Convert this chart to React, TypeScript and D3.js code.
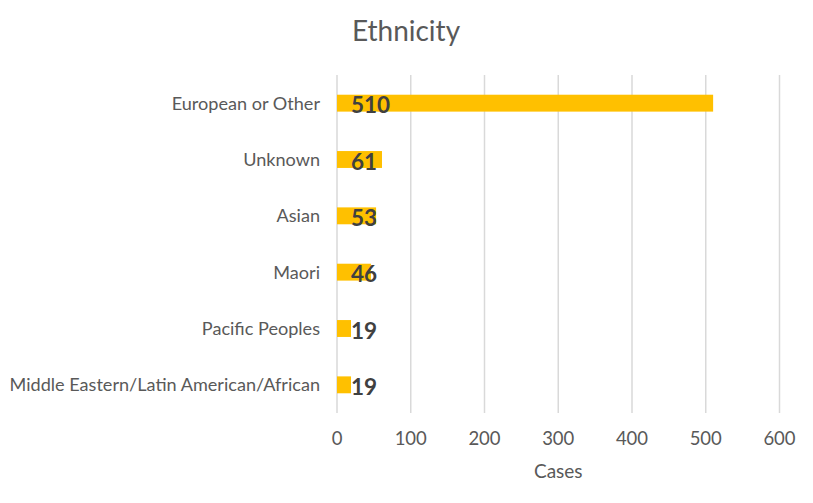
import React, { useEffect, useRef } from "react"
import * as d3 from "d3"

const categories = [
	"European or Other",
	"Unknown",
	"Asian",
	"Maori",
	"Pacific Peoples",
	"Middle Eastern/Latin American/African",
]
const cases = [510, 61, 53, 46, 19, 19]
const xTicks = [0, 100, 200, 300, 400, 500, 600]

const App = () => {
	const ref = useRef<SVGSVGElement>(null)

	useEffect(() => {
		const width = 813
		const height = 503
		const left = 337
		const right = 779.5
		const top = 75
		const bottom = 413
		const font = "Lato, 'Open Sans', sans-serif"

		const svg = d3.select(ref.current)
		svg.selectAll("*").remove()
		svg.attr("width", width).attr("height", height)

		const x = d3.scaleLinear().domain([0, 600]).range([left, right])
		const y = d3
			.scaleBand()
			.domain(categories)
			.range([top, bottom])
			.paddingInner(0.7)
			.paddingOuter(0.35)

		// title
		svg
			.append("text")
			.attr("x", 406)
			.attr("y", 41)
			.attr("text-anchor", "middle")
			.style("font-family", font)
			.style("font-size", "28px")
			.style("fill", "#595959")
			.text("Ethnicity")

		// gridlines
		svg
			.append("g")
			.selectAll("line")
			.data(xTicks)
			.join("line")
			.attr("x1", d => x(d))
			.attr("x2", d => x(d))
			.attr("y1", top)
			.attr("y2", bottom)
			.style("stroke", "#d9d9d9")
			.style("stroke-width", 1.5)

		// x tick labels
		svg
			.append("g")
			.selectAll("text")
			.data(xTicks)
			.join("text")
			.attr("x", d => x(d))
			.attr("y", 445)
			.attr("text-anchor", "middle")
			.style("font-family", font)
			.style("font-size", "18.5px")
			.style("fill", "#595959")
			.text(d => d)

		svg
			.append("text")
			.attr("x", (left + right) / 2)
			.attr("y", 478)
			.attr("text-anchor", "middle")
			.style("font-family", font)
			.style("font-size", "19px")
			.style("fill", "#595959")
			.text("Cases")

		// category labels
		svg
			.append("g")
			.selectAll("text")
			.data(categories)
			.join("text")
			.attr("x", 320)
			.attr("y", d => y(d)! + y.bandwidth() / 2)
			.attr("dy", "0.35em")
			.attr("text-anchor", "end")
			.style("font-family", font)
			.style("font-size", "18.1px")
			.style("fill", "#595959")
			.text(d => d)

		const rows = categories.map((c, i) => ({ c, v: cases[i] }))

		svg
			.append("g")
			.selectAll("rect")
			.data(rows)
			.join("rect")
			.attr("x", x(0))
			.attr("y", d => y(d.c)!)
			.attr("width", d => x(d.v) - x(0))
			.attr("height", y.bandwidth())
			.style("fill", "#ffc000")

		// value labels
		svg
			.append("g")
			.selectAll("text")
			.data(rows)
			.join("text")
			.attr("x", x(0) + 14)
			.attr("y", d => y(d.c)! + y.bandwidth() / 2)
			.attr("dy", "0.45em")
			.style("font-family", font)
			.style("font-size", "22.5px")
			.style("font-weight", "bold")
			.style("fill", "#404040")
			.text(d => d.v)
	}, [])

	return <svg ref={ref} style={{ position: "absolute", left: 0, top: 0 }}></svg>
}

export default App
